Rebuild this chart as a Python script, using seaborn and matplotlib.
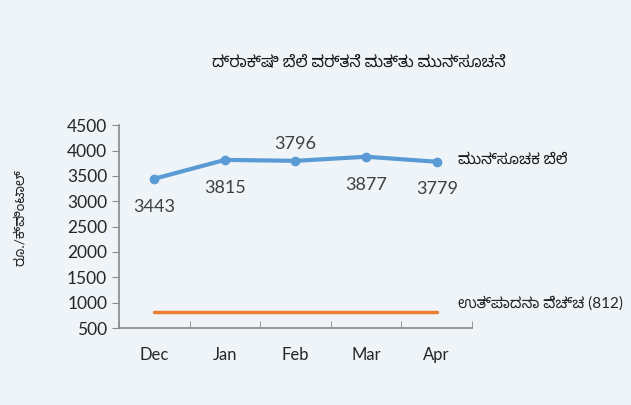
import matplotlib
matplotlib.use('Agg')
import matplotlib.pyplot as plt
import seaborn as sns
import pandas as pd

months = ['Dec', 'Jan', 'Feb', 'Mar', 'Apr']
forecast_price = [3443, 3815, 3796, 3877, 3779]
production_cost = [812, 812, 812, 812, 812]
label_above = [False, False, True, False, False]

title_text = 'ದ್ರಾಕ್ಷಿ ಬೆಲೆ ವರ್ತನೆ ಮತ್ತು ಮುನ್ಸೂಚನೆ'
ylabel_text = 'ರೂ./ಕ್ವಿಂಟಾಲ್'
forecast_label = 'ಮುನ್ಸೂಚಕ ಬೆಲೆ'
cost_label = 'ಉತ್ಪಾದನಾ ವೆಚ್ಚ (812)'

bg = '#EEF4F8'
sns.set_style('white')
# Lato for digits / latin, Kannada falls through to Noto Sans Kannada
plt.rcParams['font.family'] = ['Lato', 'Noto Sans Kannada', 'DejaVu Sans']

df = pd.DataFrame({'month': months, 'price': forecast_price, 'cost': production_cost})

fig = plt.figure(figsize=(6.31, 4.05), dpi=100, facecolor=bg)
ax = fig.add_axes([0.1886, 0.19, 0.5594, 0.501])
ax.set_facecolor(bg)

sns.lineplot(data=df, x='month', y='cost', sort=False, color='#ED7D31', linewidth=2.5, ax=ax)
sns.lineplot(data=df, x='month', y='price', sort=False, color='#5B9BD5', linewidth=3,
             marker='o', markersize=7, markeredgewidth=0, ax=ax)

for i, (v, up) in enumerate(zip(forecast_price, label_above)):
    ax.annotate(str(v), (i, v), xytext=(0, 12 if up else -20), textcoords='offset points',
                ha='center', va='center', fontsize=13, color='#404040')

ax.set_xlim(-0.5, 4.5)
ax.set_ylim(500, 4500)
ax.set_yticks(range(500, 4501, 500))
ax.set_xticks(range(len(months)))
ax.set_xticklabels(months)
ax.set_xticks([i + 0.5 for i in range(-1, len(months))], minor=True)
ax.tick_params(axis='x', which='major', length=0, pad=14, labelsize=12, labelcolor='#262626')
ax.tick_params(axis='x', which='minor', direction='in', length=5, color='#898989', bottom=True)
ax.tick_params(axis='y', length=5, color='#898989', direction='out', left=True, labelsize=12.5,
               labelcolor='#262626')
ax.set_xlabel('')
ax.set_ylabel('')

for side in ['top', 'right']:
    ax.spines[side].set_visible(False)
for side in ['left', 'bottom']:
    ax.spines[side].set_color('#898989')
    ax.spines[side].set_linewidth(1.2)

fig.text(0.569, 0.847, title_text, ha='center', va='center', fontsize=11.5, fontweight='bold',
         color='#1a1a1a')
fig.text(0.032, 0.462, ylabel_text, ha='center', va='center', rotation=90, fontsize=10,
         color='#262626')
fig.text(0.726, 0.605, forecast_label, ha='left', va='center', fontsize=11,
         fontweight='bold', color='#1a1a1a')
fig.text(0.726, 0.25, cost_label, ha='left', va='center', fontsize=11, color='#262626')

fig.savefig('out.png', dpi=100, facecolor=bg)
